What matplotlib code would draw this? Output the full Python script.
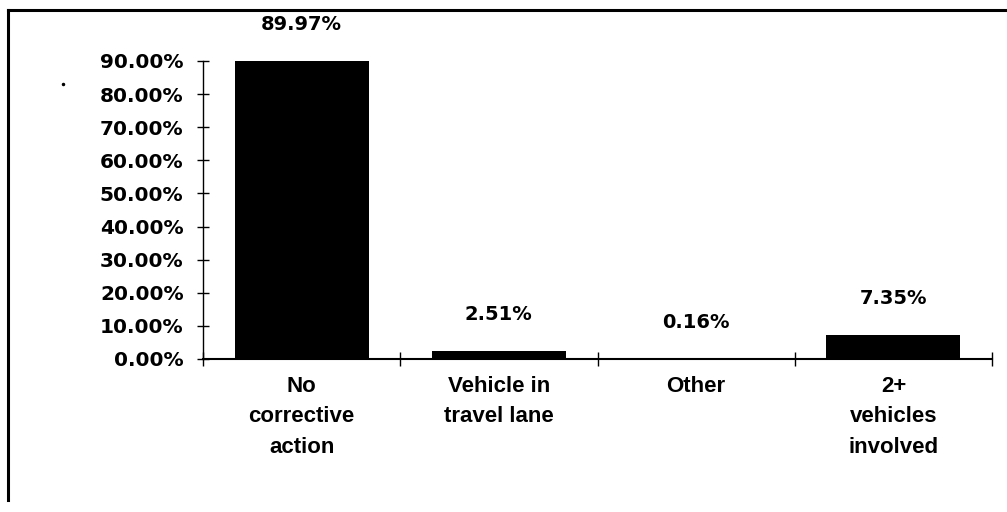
import matplotlib
matplotlib.use('Agg')
import matplotlib.pyplot as plt
from matplotlib.lines import Line2D

categories = ['No\ncorrective\naction', 'Vehicle in\ntravel lane', 'Other', '2+\nvehicles\ninvolved']
shares = [89.97, 2.51, 0.16, 7.35]
y_ticks = [0, 10, 20, 30, 40, 50, 60, 70, 80, 90]

fig = plt.figure(figsize=(10.07, 5.12), dpi=100)
ax = fig.add_axes([203 / 1007, 153 / 512, 789 / 1007, 298 / 512])

pos = range(len(categories))
ax.bar(pos, shares, width=0.68, color='black')

for x, v in zip(pos, shares):
    ax.annotate(f'{v:.2f}%', (x, v), xytext=(0, 26), textcoords='offset points',
                ha='center', va='center', fontsize=14, fontweight='bold',
                family='DejaVu Sans', annotation_clip=False)

ax.set_xlim(-0.5, len(categories) - 0.5)
ax.set_ylim(0, 90)
ax.spines['top'].set_visible(False)
ax.spines['right'].set_visible(False)
ax.spines['left'].set_linewidth(1.0)
ax.spines['bottom'].set_linewidth(1.5)

ax.set_yticks(y_ticks)
ax.set_yticklabels([f'{v:.2f}%' for v in y_ticks], fontsize=14.5,
                   fontweight='bold', family='DejaVu Sans')
ax.tick_params(axis='y', direction='inout', length=8, width=1, pad=10)

# category boundaries get the tick marks, centres get the labels
ax.set_xticks([i - 0.5 for i in range(len(categories) + 1)])
ax.set_xticklabels([])
ax.tick_params(axis='x', which='major', direction='inout', length=10, width=1)
ax.set_xticks(list(pos), minor=True)
ax.set_xticklabels(categories, minor=True, fontsize=16, fontweight='bold',
                   family=['Liberation Sans Narrow', 'Liberation Sans'],
                   linespacing=1.6, va='top')
ax.tick_params(axis='x', which='minor', length=0, pad=12)

# page frame from the scanned document
fig.add_artist(Line2D([8 / 1007, 8 / 1007], [1 - 10 / 512, 1 - 500 / 512],
                      transform=fig.transFigure, color='black', lw=2.2))
fig.add_artist(Line2D([8 / 1007, 1.0], [1 - 10 / 512, 1 - 10 / 512],
                      transform=fig.transFigure, color='black', lw=2.2))
fig.add_artist(Line2D([63 / 1007], [1 - 84 / 512], transform=fig.transFigure,
                      marker='o', markersize=1.5, color='black', lw=0))

fig.savefig('out.png', dpi=100)
